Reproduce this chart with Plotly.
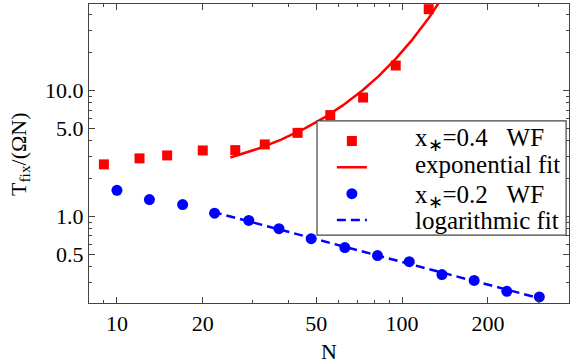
import numpy as np
import plotly.graph_objects as go

# Wright-Fisher fixation times, x* = 0.4
N_wf04 = [9, 12, 15, 20, 26, 33, 43, 56, 73, 95, 124]
T_wf04 = [2.59, 2.89, 3.05, 3.34, 3.36, 3.73, 4.61, 6.38, 8.80, 15.8, 44.3]

# Wright-Fisher fixation times, x* = 0.2
N_wf02 = [10, 13, 17, 22, 29, 37, 48, 63, 82, 106, 138, 179, 233, 303]
T_wf02 = [1.61, 1.36, 1.24, 1.06, 0.929, 0.799, 0.665, 0.565, 0.488, 0.437,
          0.345, 0.310, 0.254, 0.229]

x_major = [10, 20, 50, 100, 200]
x_minor = [8, 9, 30, 40, 60, 70, 80, 90, 300]
y_major = [0.5, 1.0, 5.0, 10.0]
y_major_text = ["0.5", "1.0", "5.0", "10.0"]
y_minor = [0.3, 0.4, 0.6, 0.7, 0.8, 0.9, 2, 3, 4, 6, 7, 8, 9, 20, 30, 40]

nb = "\u00a0"
legend_labels = [
    f"x<sub>\u2217</sub>=0.4{nb*3}WF",
    "exponential fit",
    f"x<sub>\u2217</sub>=0.2{nb*3}WF",
    "logarithmic fit",
]

RED = "#ff0000"
BLUE = "#0000ff"
FRAME = "#444444"
FONT = "Liberation Serif"

# exponential fit  T = A exp(b N)  on the large-N part of the x*=0.4 data
n4 = np.array(N_wf04, float)
t4 = np.array(T_wf04, float)
m4 = n4 >= 25
b_exp, lnA = np.polyfit(n4[m4], np.log(t4[m4]), 1)
n_exp = np.linspace(25, 140, 200)
t_exp = np.exp(lnA + b_exp * n_exp)

# logarithmic fit (log-log quadratic) on the x*=0.2 data for N >= 22
n2 = np.array(N_wf02, float)
t2 = np.array(T_wf02, float)
m2 = n2 >= 22
coef = np.polyfit(np.log(n2[m2]), np.log(t2[m2]), 2)
n_log = np.exp(np.linspace(np.log(21.7), np.log(303), 200))
t_log = np.exp(np.polyval(coef, np.log(n_log)))

fig = go.Figure()
fig.add_trace(go.Scatter(
    x=N_wf04, y=T_wf04, mode="markers",
    marker=dict(symbol="square", size=10, color=RED), name=nb))
fig.add_trace(go.Scatter(
    x=n_exp, y=t_exp, mode="lines",
    line=dict(color=RED, width=2.5), name=nb))
fig.add_trace(go.Scatter(
    x=N_wf02, y=T_wf02, mode="markers",
    marker=dict(symbol="circle", size=11, color=BLUE), name=nb))
fig.add_trace(go.Scatter(
    x=n_log, y=t_log, mode="lines",
    line=dict(color=BLUE, width=2.5, dash="9px,5px"), name=nb))

axis_common = dict(
    type="log", showgrid=False, zeroline=False,
    showline=True, linecolor=FRAME, linewidth=1.2, mirror="ticks",
    ticks="inside", ticklen=6, tickcolor=FRAME, tickwidth=1,
    tickfont=dict(family=FONT, size=22, color="#000000"),
)

# legend frame (white box over the curves) and its labels, in paper units
box_x0, box_x1, box_y0, box_y1 = 0.475, 0.994, 0.227, 0.609
label_x = 0.675
row_y = [0.548, 0.464, 0.356, 0.276]

fig.add_shape(type="rect", xref="paper", yref="paper",
              x0=box_x0, x1=box_x1, y0=box_y0, y1=box_y1,
              fillcolor="white", line=dict(color=FRAME, width=1.2),
              layer="above")
for text, yy in zip(legend_labels, row_y):
    fig.add_annotation(xref="paper", yref="paper", x=label_x, y=yy,
                       xanchor="left", yanchor="middle", showarrow=False,
                       text=text, font=dict(family=FONT, size=25,
                                            color="#000000"))

# vertical axis title
fig.add_annotation(xref="paper", yref="paper", x=-0.144, y=0.498,
                   xanchor="center", yanchor="middle", showarrow=False,
                   textangle=-90, text="T<sub>fix</sub>/(\u03a9N)",
                   font=dict(family=FONT, size=22, color="#000000"))

fig.update_layout(
    width=571, height=364,
    margin=dict(l=89, r=2, t=4, b=61),
    paper_bgcolor="white", plot_bgcolor="white",
    font=dict(family=FONT, color="#000000"),
    xaxis=dict(
        **axis_common,
        range=[np.log10(7.98), np.log10(385)],
        tickmode="array", tickvals=x_major, ticktext=[str(v) for v in x_major],
        minor=dict(tickmode="array", tickvals=x_minor, ticks="inside",
                   ticklen=3, tickcolor=FRAME),
        title=dict(text="N", font=dict(family=FONT, size=22), standoff=10),
    ),
    yaxis=dict(
        **axis_common,
        range=[np.log10(0.205), np.log10(48.7)],
        tickmode="array", tickvals=y_major, ticktext=y_major_text,
        minor=dict(tickmode="array", tickvals=y_minor, ticks="inside",
                   ticklen=3, tickcolor=FRAME),
    ),
    legend=dict(
        x=0.506, y=0.603, xanchor="left", yanchor="top",
        bgcolor="rgba(0,0,0,0)", borderwidth=0,
        font=dict(family=FONT, size=18, color="#000000"),
        tracegroupgap=0,
    ),
    showlegend=True,
)

fig.write_html("out.html")
